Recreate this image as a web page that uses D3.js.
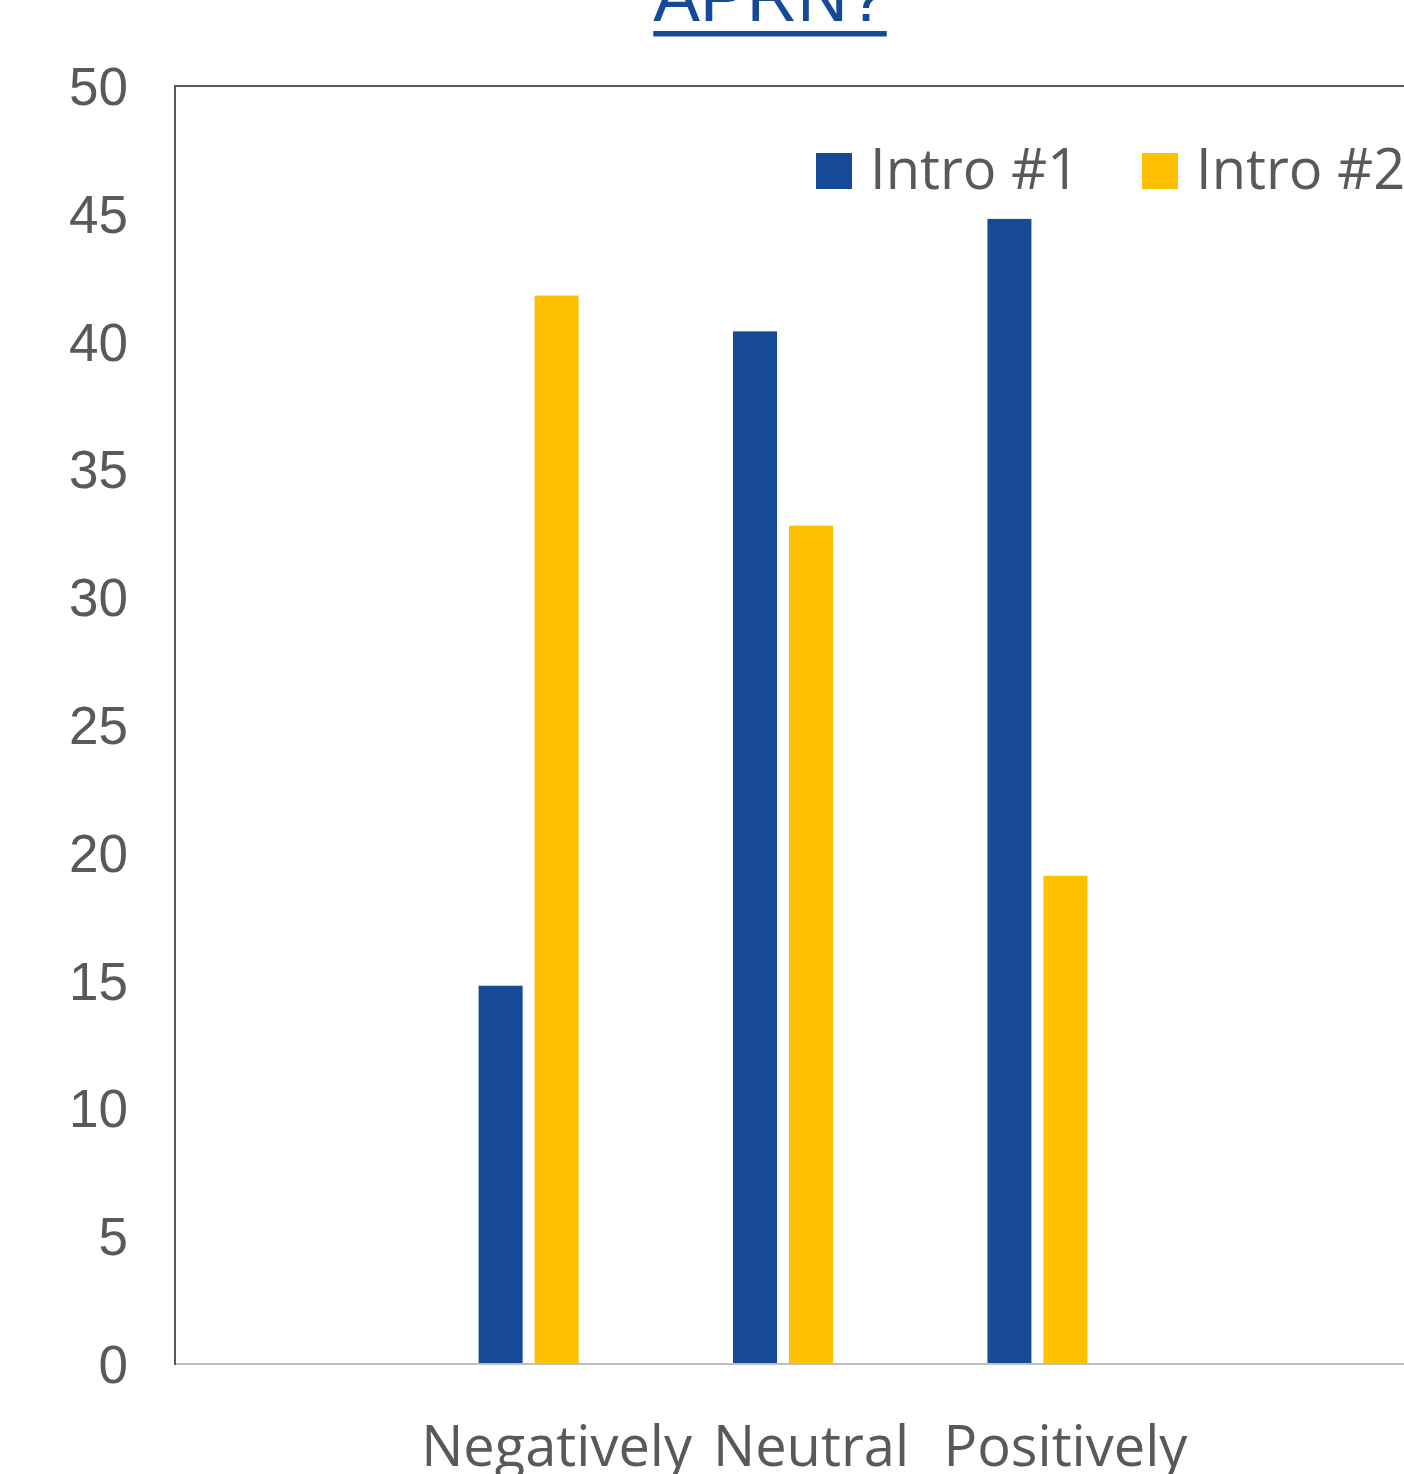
<!DOCTYPE html>
<meta charset="utf-8">
<style>
body { margin: 0; background: #fff; }
svg { display: block; }
.tick-label { font-family: "Liberation Sans", Arial, sans-serif; font-size: 53px; fill: #595959; }
.cat-label, .legend text { font-family: "Open Sans", "Noto Sans", sans-serif; font-size: 56px; fill: #595959; }
.title { font-family: "Liberation Sans", Arial, sans-serif; font-size: 70px; fill: #174A96; }
</style>
<svg width="1404" height="1474"></svg>
<script src="https://d3js.org/d3.v7.min.js"></script>
<script>

var categories = ["Negatively", "Neutral", "Positively"];
var series = ["Intro #1", "Intro #2"];
var intro1 = [14.8, 40.4, 44.8];
var intro2 = [41.8, 32.8, 19.1];
var yTicks = [0, 5, 10, 15, 20, 25, 30, 35, 40, 45, 50];
var colors = ["#174A96", "#FFC000"];

var svg = d3.select("svg");
var plotLeft = 175, plotTop = 86, plotBottom = 1364, plotRight = 1447;

var x0 = d3.scaleBand()
    .domain(categories)
    .range([plotLeft, plotRight])
    .paddingInner(0)
    .paddingOuter(1);

var bw = x0.bandwidth();
// three slot group (third slot empty), bars 44 wide with 12 gap
var x1 = d3.scaleBand()
    .domain(series)
    .range([bw / 2 - 78, bw / 2 - 78 + 100])
    .paddingInner(12 / 56);

var y = d3.scaleLinear().domain([0, 50]).range([plotBottom, plotTop]);

// title
var title = svg.append("text")
    .attr("class", "title")
    .attr("x", 770)
    .attr("y", 21)
    .attr("text-anchor", "middle")
    .text("APRN?");
var tb = title.node().getBBox();
svg.append("rect")
    .attr("x", tb.x).attr("y", 31)
    .attr("width", tb.width).attr("height", 5.5)
    .attr("fill", "#174A96");

// bars
var rows = categories.map(function(c, i) {
  return { cat: c, values: [intro1[i], intro2[i]] };
});

var groups = svg.append("g").selectAll("g")
  .data(rows)
  .enter().append("g")
    .attr("transform", function(d) { return "translate(" + x0(d.cat) + ",0)"; });

groups.selectAll("rect")
  .data(function(d) { return d.values.map(function(v, j) { return { s: series[j], v: v, j: j }; }); })
  .enter().append("rect")
    .attr("x", function(d) { return x1(d.s); })
    .attr("width", x1.bandwidth())
    .attr("y", function(d) { return y(d.v); })
    .attr("height", function(d) { return plotBottom - y(d.v); })
    .attr("fill", function(d) { return colors[d.j]; });

// frame
svg.append("line")
    .attr("x1", plotLeft).attr("x2", 1404).attr("y1", plotBottom).attr("y2", plotBottom)
    .attr("stroke", "#BFBFBF").attr("stroke-width", 2);
svg.append("line")
    .attr("x1", plotLeft).attr("x2", 1404).attr("y1", plotTop).attr("y2", plotTop)
    .attr("stroke", "#595959").attr("stroke-width", 2);
svg.append("line")
    .attr("x1", plotLeft).attr("x2", plotLeft).attr("y1", plotTop - 1).attr("y2", plotBottom + 1)
    .attr("stroke", "#595959").attr("stroke-width", 2);

// y tick labels
svg.append("g").selectAll("text")
  .data(yTicks)
  .enter().append("text")
    .attr("class", "tick-label")
    .attr("x", 128)
    .attr("y", function(d) { return y(d); })
    .attr("dy", "0.36em")
    .attr("text-anchor", "end")
    .text(function(d) { return d; });

// category labels
svg.append("g").selectAll("text")
  .data(categories)
  .enter().append("text")
    .attr("class", "cat-label")
    .attr("x", function(d) { return x0(d) + bw / 2; })
    .attr("y", 1466)
    .attr("text-anchor", "middle")
    .text(function(d) { return d; });

// legend
var legendX = [816, 1142];
var legend = svg.append("g").attr("class", "legend").selectAll("g")
  .data(series)
  .enter().append("g")
    .attr("transform", function(d, i) { return "translate(" + legendX[i] + ",153)"; });
legend.append("rect")
    .attr("width", 36).attr("height", 36)
    .attr("fill", function(d, i) { return colors[i]; });
legend.append("text")
    .attr("x", 54).attr("y", 36)
    .text(function(d) { return d; });

</script>
